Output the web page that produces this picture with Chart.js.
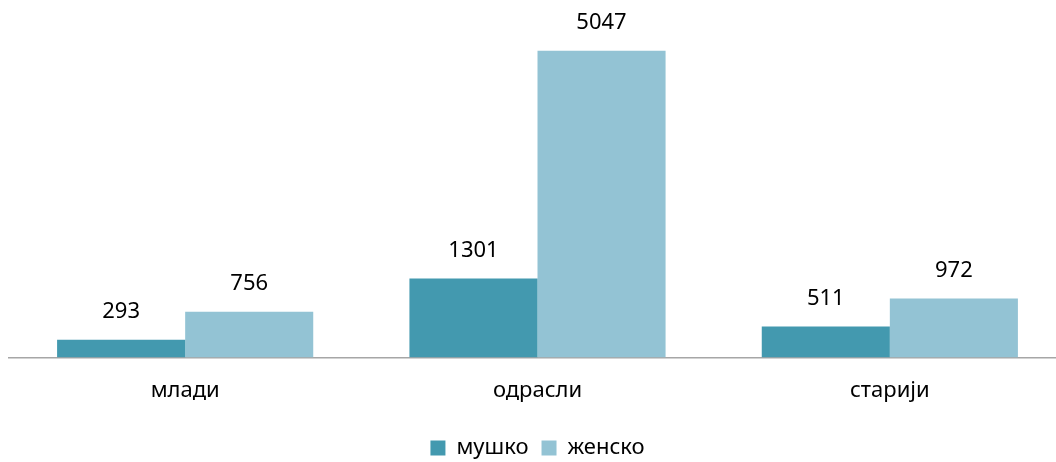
<!DOCTYPE html>
<html>
<head>
<meta charset="utf-8">
<script src="https://cdn.jsdelivr.net/npm/chart.js@4"></script>
<style>
  html, body { margin: 0; padding: 0; background: #fff; overflow: hidden; }
  #wrap { width: 1066px; height: 469px; }
</style>
</head>
<body>
<div id="wrap"><canvas id="myChart" width="1066" height="469"></canvas></div>
<script>
var categories = ['млади', 'одрасли', 'старији'];
var male = [293, 1301, 511];
var female = [756, 5047, 972];
var seriesNames = ['мушко', 'женско'];

Chart.defaults.font.family = "'Noto Sans', 'Open Sans', sans-serif";
Chart.defaults.color = '#000';

// values above bars
var valueLabels = {
    id: 'valueLabels',
    afterDatasetsDraw: function (chart) {
        var ctx = chart.ctx;
        ctx.save();
        ctx.font = "22px 'Noto Sans', sans-serif";
        ctx.fillStyle = '#000';
        ctx.textAlign = 'center';
        ctx.textBaseline = 'middle';
        chart.data.datasets.forEach(function (ds, i) {
            chart.getDatasetMeta(i).data.forEach(function (bar, j) {
                ctx.fillText(ds.data[j], bar.x, bar.y - 28);
            });
        });
        ctx.restore();
    }
};

var ctx = document.getElementById('myChart').getContext('2d');
var myChart = new Chart(ctx, {
    type: 'bar',
    data: {
        labels: categories,
        datasets: [{
            label: seriesNames[0],
            data: male,
            backgroundColor: '#4399AF'
        }, {
            label: seriesNames[1],
            data: female,
            backgroundColor: '#93C3D4'
        }]
    },
    options: {
        responsive: false,
        animation: false,
        layout: { padding: { left: 9, right: 0, top: 5, bottom: 0 } },
        datasets: {
            bar: { categoryPercentage: 0.727, barPercentage: 1.0 }
        },
        scales: {
            x: {
                grid: { display: false, drawTicks: false },
                border: { color: '#A6A6A6', width: 1.5 },
                ticks: { font: { size: 22 }, padding: 20, color: '#000' }
            },
            y: {
                display: false,
                min: 0,
                max: 5800
            }
        },
        plugins: {
            legend: {
                position: 'bottom',
                labels: {
                    boxWidth: 15,
                    boxHeight: 15,
                    padding: 13,
                    font: { size: 22 },
                    color: '#000'
                }
            },
            tooltip: { enabled: false }
        }
    },
    plugins: [valueLabels]
});
</script>
</body>
</html>
